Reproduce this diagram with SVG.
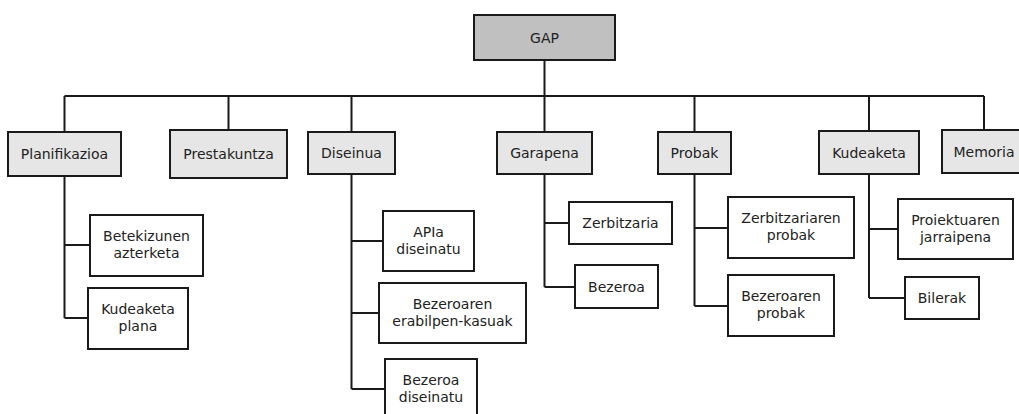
<svg xmlns="http://www.w3.org/2000/svg" width="1019" height="414" viewBox="0 0 1019 414">
  <style>
    .box { stroke: #1a1a1a; stroke-width: 2; }
    .root { fill: #c0c0c0; }
    .phase { fill: #e6e6e6; }
    .task { fill: #ffffff; }
    .wire { fill: none; stroke: #1a1a1a; stroke-width: 2; }
    text { font-family: "DejaVu Sans", "Liberation Sans", sans-serif; font-size: 14px; fill: #222; text-anchor: middle; }
  </style>
  <rect width="1019" height="414" fill="#ffffff"/>

  <!-- tree connectors -->
  <g id="connectors">
    <path class="wire" d="M544.5 60 V96 M64.5 96 H984"/>
    <path class="wire" d="M64.5 96 V132 M228.5 96 V130 M351.5 96 V132 M544.5 96 V132 M694.5 96 V132 M869 96 V131 M984 96 V130"/>
    <path class="wire" d="M64.5 176 V318 M64.5 245 H90 M64.5 318 H88"/>
    <path class="wire" d="M351.5 174 V389 M351.5 241 H383 M351.5 313 H379 M351.5 389 H385"/>
    <path class="wire" d="M544.5 174 V287 M544.5 223 H569 M544.5 287 H575"/>
    <path class="wire" d="M694.5 174 V306 M694.5 228 H728 M694.5 306 H728"/>
    <path class="wire" d="M869 174 V298 M869 229 H898 M869 298 H905"/>
  </g>

  <g id="gap">
    <rect class="box root" x="474" y="15" width="141" height="45"/>
    <text x="544.5" y="42.5">GAP</text>
  </g>

  <g id="planifikazioa">
    <rect class="box phase" x="8" y="132" width="113" height="44"/>
    <text x="64.5" y="159">Planifikazioa</text>
  </g>
  <g id="prestakuntza">
    <rect class="box phase" x="170" y="130" width="117" height="48"/>
    <text x="228.5" y="159">Prestakuntza</text>
  </g>
  <g id="diseinua">
    <rect class="box phase" x="308" y="132" width="87" height="42"/>
    <text x="351.5" y="158">Diseinua</text>
  </g>
  <g id="garapena">
    <rect class="box phase" x="497" y="132" width="95" height="42"/>
    <text x="544.5" y="158">Garapena</text>
  </g>
  <g id="probak">
    <rect class="box phase" x="658" y="132" width="73" height="42"/>
    <text x="694.5" y="158">Probak</text>
  </g>
  <g id="kudeaketa">
    <rect class="box phase" x="819" y="131" width="100" height="43"/>
    <text x="869" y="157.5">Kudeaketa</text>
  </g>
  <g id="memoria">
    <rect class="box phase" x="942" y="130" width="84" height="43"/>
    <text x="984" y="156.5">Memoria</text>
  </g>

  <g id="betekizunen-azterketa">
    <rect class="box task" x="90" y="215" width="113" height="61"/>
    <text x="146.5" y="241">Betekizunen</text>
    <text x="146.5" y="258">azterketa</text>
  </g>
  <g id="kudeaketa-plana">
    <rect class="box task" x="88" y="288" width="100" height="61"/>
    <text x="138" y="314">Kudeaketa</text>
    <text x="138" y="331">plana</text>
  </g>

  <g id="apia-diseinatu">
    <rect class="box task" x="383" y="211" width="91" height="60"/>
    <text x="428.5" y="236.5">APIa</text>
    <text x="428.5" y="253.5">diseinatu</text>
  </g>
  <g id="bezeroaren-erabilpen-kasuak">
    <rect class="box task" x="379" y="283" width="147" height="60"/>
    <text x="452.5" y="308.5">Bezeroaren</text>
    <text x="452.5" y="325.5">erabilpen-kasuak</text>
  </g>
  <g id="bezeroa-diseinatu">
    <rect class="box task" x="385" y="359" width="92" height="60"/>
    <text x="431" y="384.5">Bezeroa</text>
    <text x="431" y="401.5">diseinatu</text>
  </g>

  <g id="zerbitzaria">
    <rect class="box task" x="569" y="202" width="103" height="42"/>
    <text x="620.5" y="228">Zerbitzaria</text>
  </g>
  <g id="bezeroa">
    <rect class="box task" x="575" y="265" width="83" height="43"/>
    <text x="616.5" y="291.5">Bezeroa</text>
  </g>

  <g id="zerbitzariaren-probak">
    <rect class="box task" x="728" y="197" width="126" height="61"/>
    <text x="791" y="223">Zerbitzariaren</text>
    <text x="791" y="240">probak</text>
  </g>
  <g id="bezeroaren-probak">
    <rect class="box task" x="728" y="275" width="106" height="61"/>
    <text x="781" y="301">Bezeroaren</text>
    <text x="781" y="318">probak</text>
  </g>

  <g id="proiektuaren-jarraipena">
    <rect class="box task" x="898" y="199" width="115" height="60"/>
    <text x="955.5" y="224.5">Proiektuaren</text>
    <text x="955.5" y="241.5">jarraipena</text>
  </g>
  <g id="bilerak">
    <rect class="box task" x="905" y="277" width="74" height="42"/>
    <text x="942" y="303">Bilerak</text>
  </g>
</svg>
